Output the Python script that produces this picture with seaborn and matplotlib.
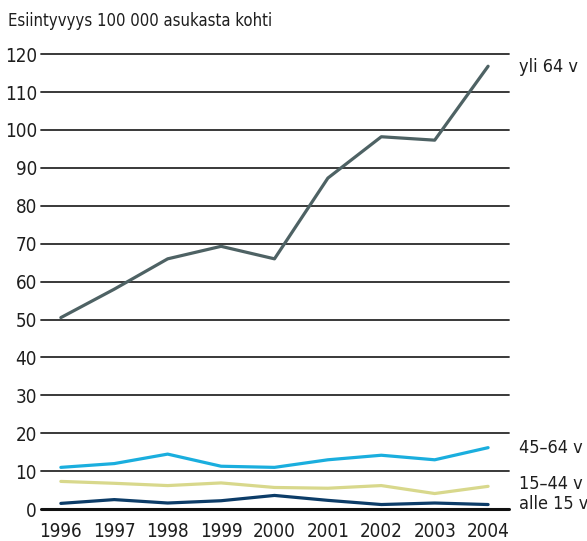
import numpy as np
import matplotlib
matplotlib.use("Agg")
import matplotlib.pyplot as plt
import seaborn as sns
import pandas as pd

years = [1996, 1997, 1998, 1999, 2000, 2001, 2002, 2003, 2004]
yli64 = [50.5, 58.0, 66.0, 69.3, 66.0, 87.3, 98.2, 97.3, 116.8]
v45_64 = [11.0, 12.0, 14.5, 11.3, 11.0, 13.0, 14.2, 13.0, 16.2]
v15_44 = [7.3, 6.8, 6.2, 6.9, 5.7, 5.5, 6.2, 4.1, 6.0]
alle15 = [1.5, 2.5, 1.6, 2.2, 3.6, 2.3, 1.2, 1.6, 1.2]

series = ["yli 64 v", "45\u201364 v", "15\u201344 v", "alle 15 v"]
colors = ["#4e6264", "#1aaede", "#d8d88c", "#0c3c68"]
label_y = [116.7, 16.1, 6.6, 1.3]

df = pd.DataFrame({"vuosi": years, series[0]: yli64, series[1]: v45_64,
                   series[2]: v15_44, series[3]: alle15})
long = df.melt(id_vars="vuosi", var_name="ryhma", value_name="arvo")

sns.set_style("white")
plt.rcParams["font.family"] = ["DejaVu Sans"]
plt.rcParams["font.stretch"] = "condensed"

fig = plt.figure(figsize=(5.87, 5.41), dpi=100)
ax = fig.add_axes([0.070, 0.059, 0.797, 0.841])

# grid lines
for yv in range(10, 121, 10):
    ax.axhline(yv, color="#2a2a2a", lw=1.3, zorder=1, clip_on=False)
ax.axhline(0, color="#111111", lw=2.2, zorder=1, clip_on=False)

sns.lineplot(data=long, x="vuosi", y="arvo", hue="ryhma", hue_order=series,
             palette=colors, lw=2.3, legend=False, ax=ax, zorder=3)
for l in ax.lines:
    l.set_clip_on(False)

ax.set_xlim(1995.63, 2004.39)
ax.set_ylim(0, 120)
ax.set_yticks(range(0, 121, 10))
ax.set_xticks(years)
ax.tick_params(axis="both", length=0, labelsize=13.5, colors="#1e1e1e")
ax.tick_params(axis="y", pad=3)
ax.tick_params(axis="x", pad=9)
ax.set_xlabel("")
ax.set_ylabel("")
for s in ax.spines.values():
    s.set_visible(False)

# end labels
for name, yv in zip(series, label_y):
    ax.text(2004.58, yv, name, fontsize=13, color="#1e1e1e",
            va="center", ha="left", clip_on=False)

fig.text(0.013, 0.962, "Esiintyvyys 100 000 asukasta kohti", fontsize=12,
         color="#1e1e1e", va="center", ha="left")

fig.savefig("out.png", dpi=100, facecolor="white")
